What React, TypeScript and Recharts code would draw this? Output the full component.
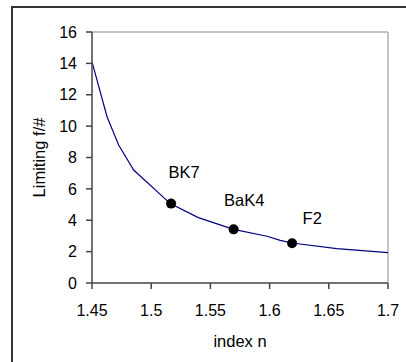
import { ComposedChart, Line, Scatter, XAxis, YAxis, ReferenceLine, LabelList, Label } from 'recharts';

// curve (index n -> limiting f/#)
const curveN = [1.45, 1.4627, 1.4725, 1.4852, 1.5161, 1.5398, 1.5696, 1.5978, 1.609, 1.619, 1.6568, 1.7];
const curveF = [14.1, 10.6, 8.8, 7.2, 5.06, 4.17, 3.42, 2.98, 2.72, 2.55, 2.19, 1.93];

// glass types marked on the curve
const glassNames = ['BK7', 'BaK4', 'F2'];
const glassN = [1.5168, 1.5696, 1.619];
const glassF = [5.06, 3.42, 2.53];

const xTicks = [1.45, 1.5, 1.55, 1.6, 1.65, 1.7];
const yTicks = [0, 2, 4, 6, 8, 10, 12, 14, 16];

const curveData = curveN.map((n, i) => ({ n, f: curveF[i] }));
const glassData = glassN.map((n, i) => ({ n, f: glassF[i], name: glassNames[i] }));

const font = '"Liberation Sans", Arial, sans-serif';

// label placement relative to each dot
const labelShift: Record<string, [number, number]> = {
    BK7: [2, -21],
    BaK4: [-5, -19],
    F2: [15, -15],
};

const GlassLabel = (props: any) => {
    const { x, y, value } = props;
    const [dx, dy] = labelShift[value] || [0, -15];
    return (
        <text x={x + dx} y={y + dy} fontSize={16.5} fontFamily={font} fill="#000">
            {value}
        </text>
    );
};

export default function App() {
    return (
        <div style={{ position: 'absolute', left: 0, top: 0, width: 406, height: 362, overflow: 'hidden', background: '#fff' }}>
            <div style={{ position: 'absolute', left: 11, top: 6, width: 420, height: 400, border: '2px solid #333', boxSizing: 'border-box' }} />
            <ComposedChart
                width={406}
                height={362}
                margin={{ top: 32, right: 18, left: 0, bottom: 0 }}
                style={{ position: 'absolute', left: 0, top: 0 }}
            >
                <XAxis
                    type="number"
                    dataKey="n"
                    domain={[1.45, 1.7]}
                    ticks={xTicks}
                    allowDataOverflow
                    height={79}
                    tickSize={6}
                    tickMargin={16}
                    stroke="#444"
                    strokeWidth={1.5}
                    tick={{ fill: '#000', fontSize: 16, fontFamily: font }}
                >
                    <Label value="index n" position="insideBottom" offset={15} fill="#000" fontSize={16.5} fontFamily={font} />
                </XAxis>
                <YAxis
                    type="number"
                    domain={[0, 16]}
                    ticks={yTicks}
                    width={92}
                    tickSize={6}
                    tickMargin={9}
                    stroke="#444"
                    strokeWidth={1.5}
                    tick={{ fill: '#000', fontSize: 16, fontFamily: font }}
                >
                    <Label
                        content={(p: any) => {
                            const vb = p.viewBox || { y: 32, height: 251 };
                            const cy = vb.y + vb.height / 2;
                            return (
                                <text
                                    x={39}
                                    y={cy}
                                    transform={`rotate(-90, 39, ${cy})`}
                                    textAnchor="middle"
                                    dominantBaseline="central"
                                    fontSize={16.5}
                                    fontFamily={font}
                                    fill="#000"
                                >
                                    Limiting f/#
                                </text>
                            );
                        }}
                    />
                </YAxis>
                <ReferenceLine y={16} stroke="#b0b0b0" strokeWidth={1.5} />
                <ReferenceLine x={1.7} stroke="#b0b0b0" strokeWidth={1.5} />
                <Line
                    data={curveData}
                    dataKey="f"
                    type="linear"
                    stroke="#000080"
                    strokeWidth={1.2}
                    dot={false}
                    activeDot={false}
                    isAnimationActive={false}
                />
                <Scatter data={glassData} dataKey="f" fill="#000" shape={(p: any) => <circle cx={p.cx} cy={p.cy} r={5} fill="#000" />} isAnimationActive={false}>
                    <LabelList dataKey="name" content={<GlassLabel />} />
                </Scatter>
            </ComposedChart>
        </div>
    );
}
